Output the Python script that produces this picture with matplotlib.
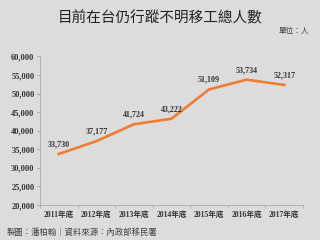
import matplotlib
matplotlib.use("Agg")
from matplotlib import pyplot as plt

years = ["2011年底", "2012年底", "2013年底", "2014年底", "2015年底", "2016年底", "2017年底"]
workers = [33730, 37177, 41724, 43222, 51109, 53734, 52317]
y_ticks = [20000, 25000, 30000, 35000, 40000, 45000, 50000, 55000, 60000]

bg = "#dcdcdc"
serif_cjk = ["Liberation Serif", "Noto Sans CJK TC"]
sans_cjk = ["Noto Sans CJK TC", "DejaVu Sans"]

fig = plt.figure(figsize=(3.2, 2.4), dpi=100, facecolor=bg)
ax = fig.add_axes([0.125, 0.146, 0.822, 0.619], facecolor=bg)

x = list(range(len(years)))
ax.plot(x, workers, color="#ed7d31", linewidth=1.9)
for xi, v in zip(x, workers):
    ax.annotate(f"{v:,}", (xi, v), xytext=(0, 4), textcoords="offset points",
                ha="center", va="bottom", fontsize=5.8, color="#333333",
                family=serif_cjk, fontweight="bold")

ax.set_xlim(-0.5, len(years) - 0.5)
ax.set_ylim(20000, 60000)
ax.set_yticks(y_ticks)
ax.set_yticklabels([f"{t:,}" for t in y_ticks], family=serif_cjk,
                   fontsize=6, fontweight="bold", color="#333333")
ax.set_xticks(x)
ax.set_xticklabels(years, family=serif_cjk, fontsize=5.5, fontweight="bold",
                   color="#333333")
ax.set_xticks([i + 0.5 for i in range(-1, len(years))], minor=True)
ax.tick_params(axis="x", which="major", length=0, pad=4)
ax.tick_params(axis="x", which="minor", length=2, color="#aaaaaa")
ax.tick_params(axis="y", length=2, color="#aaaaaa", pad=2)
for s in ["top", "right"]:
    ax.spines[s].set_visible(False)
ax.spines["left"].set_color("#aaaaaa")
ax.spines["bottom"].set_color("#aaaaaa")
ax.spines["left"].set_linewidth(0.6)
ax.spines["bottom"].set_linewidth(0.6)

fig.text(0.5, 0.925, "目前在台仍行蹤不明移工總人數", ha="center", va="center",
         fontsize=10.5, family=sans_cjk, color="#222222")
fig.text(0.965, 0.87, "單位：人", ha="right", va="center", fontsize=5.5,
         family=sans_cjk, color="#444444")
fig.text(0.02, 0.03, "製圖：潘柏翰｜資料來源：內政部移民署", ha="left", va="center",
         fontsize=6, family=sans_cjk, color="#444444")

plt.savefig("out.png", dpi=100, facecolor=bg)
plt.close("all")
